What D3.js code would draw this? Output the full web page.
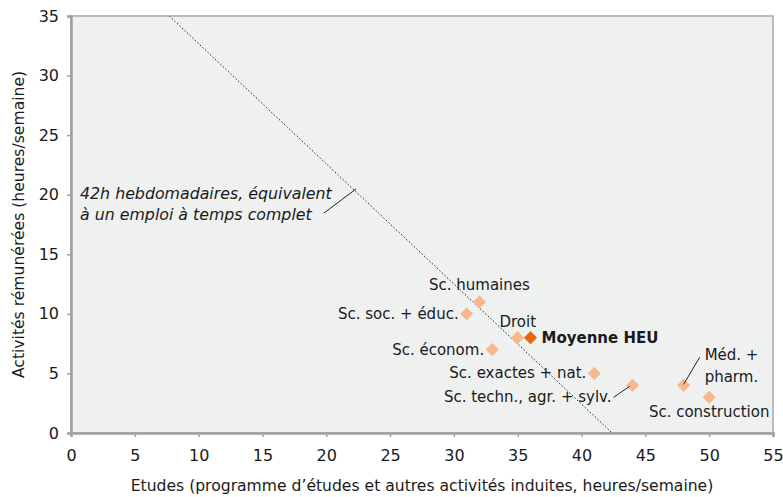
<!DOCTYPE html>
<html>
<head>
<meta charset="utf-8">
<script src="https://cdn.jsdelivr.net/npm/d3@7"></script>
<style>
  body { margin: 0; background: #fff; }
  svg text { font-family: "DejaVu Sans", sans-serif; fill: #1a1a1a; }
</style>
</head>
<body>
<div id="vis"></div>
<script>
/* Data */
var names = ["Sc. humaines", "Sc. soc. + éduc.", "Droit", "Moyenne HEU", "Sc. économ.",
             "Sc. exactes + nat.", "Sc. techn., agr. + sylv.", "Méd. + pharm.", "Sc. construction"];
var etudes = [32, 31, 35, 36, 33, 41, 44, 48, 50];
var activites = [11, 10, 8, 8, 7, 5, 4, 4, 3];
var xTicks = [0, 5, 10, 15, 20, 25, 30, 35, 40, 45, 50, 55];
var yTicks = [0, 5, 10, 15, 20, 25, 30, 35];
// 42h line end points (etudes, activites)
var lineX = [7.7, 42.4];
var lineY = [35, 0];

/* Set up */
var W = 783, H = 497;
var margin = {top: 16, right: 10, bottom: 64, left: 71},
    width = W - margin.left - margin.right,
    height = H - margin.top - margin.bottom;

var svg = d3.select('#vis').append('svg').attr('width', W).attr('height', H);
var chart = svg.append('g').attr('transform', 'translate(' + margin.left + ',' + margin.top + ')');

var xScale = d3.scaleLinear().domain([0, 55]).range([0, width]);
var yScale = d3.scaleLinear().domain([0, 35]).range([height, 0]);

/* plot background */
chart.append('rect').attr('width', width).attr('height', height)
    .attr('fill', '#eff0f0').attr('stroke', '#a8a8a8').attr('stroke-width', 1.5);

/* Axes */
var xAxis = d3.axisBottom(xScale).tickValues(xTicks).tickSize(4).tickPadding(13);
var yAxis = d3.axisLeft(yScale).tickValues(yTicks).tickSize(4).tickPadding(8);

var gx = chart.append('g').attr('transform', 'translate(0,' + height + ')').call(xAxis);
var gy = chart.append('g').call(yAxis);
[gx, gy].forEach(function (g) {
    g.select('.domain').attr('stroke', '#a0a0a0').attr('stroke-width', 2.5);
    g.selectAll('.tick line').attr('stroke', '#a0a0a0').attr('stroke-width', 1.5);
    g.selectAll('.tick text').style('font-size', '16px').attr('fill', '#1a1a1a');
});

/* Axis titles */
svg.append('text').attr('x', margin.left + width / 2).attr('y', 491)
    .attr('text-anchor', 'middle').style('font-size', '15.6px')
    .text("Etudes (programme d’études et autres activités induites, heures/semaine)");
svg.append('text').attr('transform', 'translate(24,' + (margin.top + height / 2) + ') rotate(-90)')
    .attr('text-anchor', 'middle').style('font-size', '15.6px')
    .text('Activités rémunérées (heures/semaine)');

/* 42h line */
chart.append('line')
    .attr('x1', xScale(lineX[0])).attr('y1', yScale(lineY[0]))
    .attr('x2', xScale(lineX[1])).attr('y2', yScale(lineY[1]))
    .attr('stroke', '#222').attr('stroke-width', 1).attr('stroke-dasharray', '1.5,2');

var note = chart.append('text').style('font-size', '15.8px').style('font-style', 'italic');
note.append('tspan').attr('x', 9).attr('y', 183).text('42h hebdomadaires, équivalent');
note.append('tspan').attr('x', 9).attr('y', 204).text('à un emploi à temps complet');
chart.append('line').attr('x1', 253).attr('y1', 197).attr('x2', 285).attr('y2', 173)
    .attr('stroke', '#222').attr('stroke-width', 1);

/* Points */
var diamond = d3.symbol().type(d3.symbolDiamond2).size(110);
var points = chart.selectAll('.pt').data(names).enter().append('path')
    .attr('class', 'pt')
    .attr('d', diamond)
    .attr('transform', function (d, i) { return 'translate(' + xScale(etudes[i]) + ',' + yScale(activites[i]) + ')'; })
    .attr('fill', function (d) { return d === 'Moyenne HEU' ? '#e8650a' : '#f7b98b'; });

/* Labels: offsets relative to point */
var labelPos = {
    "Sc. humaines": [0, -12, 'middle'],
    "Sc. soc. + éduc.": [-8, 5, 'end'],
    "Droit": [0, -11, 'middle'],
    "Moyenne HEU": [11, 5, 'start'],
    "Sc. économ.": [-8, 5, 'end'],
    "Sc. exactes + nat.": [-8, 5, 'end'],
    "Sc. techn., agr. + sylv.": [-21, 17, 'end'],
    "Sc. construction": [0, 20, 'middle']
};
names.forEach(function (n, i) {
    var px = xScale(etudes[i]), py = yScale(activites[i]);
    if (n === 'Méd. + pharm.') {
        var t = chart.append('text').style('font-size', '15px');
        t.append('tspan').attr('x', px + 21).attr('y', py - 25).text('Méd. +');
        t.append('tspan').attr('x', px + 21).attr('y', py - 3).text('pharm.');
        chart.append('line').attr('x1', px).attr('y1', py - 1).attr('x2', px + 16).attr('y2', py - 28)
            .attr('stroke', '#222').attr('stroke-width', 1);
        return;
    }
    var p = labelPos[n];
    chart.append('text').attr('x', px + p[0]).attr('y', py + p[1])
        .attr('text-anchor', p[2]).style('font-size', '15px')
        .style('font-weight', n === 'Moyenne HEU' ? 'bold' : 'normal')
        .text(n);
    if (n === 'Sc. techn., agr. + sylv.') {
        chart.append('line').attr('x1', px - 19).attr('y1', py + 12).attr('x2', px - 3).attr('y2', py + 1)
            .attr('stroke', '#222').attr('stroke-width', 1);
    }
});
</script>
</body>
</html>
